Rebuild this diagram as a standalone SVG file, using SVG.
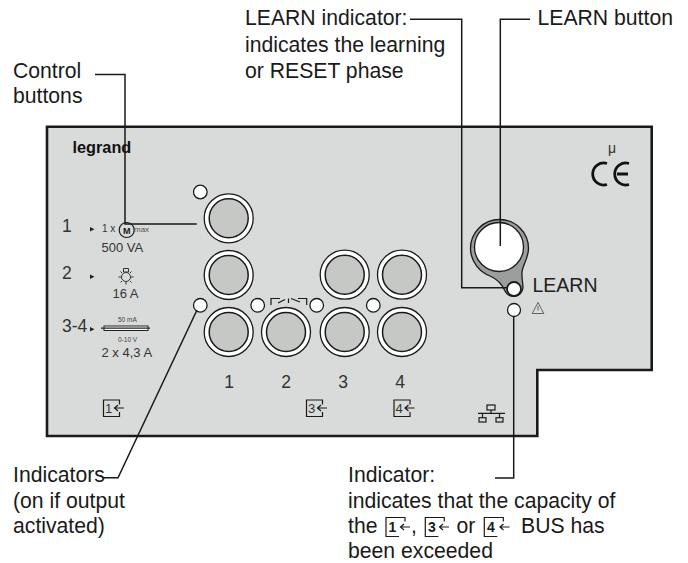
<svg xmlns="http://www.w3.org/2000/svg" width="688" height="563" viewBox="0 0 688 563">
<style>
text{font-family:"Liberation Sans",Arial,sans-serif;fill:#1a1a1a}
.l{font-size:21.200px}
.p{font-size:13px;fill:#333}
.s{font-size:8px;fill:#555}
.n{font-size:17.500px;fill:#333}
.i{font-size:13px;fill:#333}
.ib{font-size:14px;font-weight:bold}
.o{fill:#fff;stroke:#1a1a1a;stroke-width:1.300}
.b{fill:#c6c8c6;stroke:#1a1a1a;stroke-width:1.500}
.w{fill:none;stroke:#1a1a1a;stroke-width:1.200}
.c{fill:none;stroke:#1a1a1a;stroke-width:1.500}
.t{fill:none;stroke:#333;stroke-width:1}
</style>
<defs>
<g id="btn"><circle r="24.500" class="o"/><circle r="19.500" class="b"/></g>
<g id="led"><circle r="6.800" class="o"/></g>
<path id="bk" d="M16 4.500V0H0V16.500H16V12" class="w"/>
<path id="bk2" d="M19 4V0H0V19H13" class="w"/>
<path id="ar" d="M20.500 8H11M14.500 5L11 8L14.500 11" class="w"/>
</defs>
<g id="panel">
<path d="M47 126.700H651.700V370H537.300V436H47Z" fill="#d9dbda" stroke="#1a1a1a" stroke-width="2.600"/>
<text x="72.500" y="153" style="font-size:16.300px;font-weight:bold;fill:#111">legrand</text>
<text x="608" y="153" style="font-size:14px;fill:#333">μ</text>
<path d="M607 163.500A11 11 0 1 0 607 184.500M629 163.500A11 11 0 1 0 629 184.500M617 174H628" fill="none" stroke="#111" stroke-width="2.800"/>
</g>
<g id="ratings">
<text x="62" y="232" class="n">1</text><path d="M90 227l4.500 2.200-4.500 2.200z" fill="#222"/>
<text x="102" y="232" class="p" style="font-size:10px">1 x</text>
<circle cx="126.700" cy="230" r="7.500" class="w"/><text x="126.700" y="233.500" text-anchor="middle" style="font-size:9px;font-weight:bold">M</text>
<text x="134" y="232" class="s">max</text>
<text x="101.500" y="252" class="p">500 VA</text>
<text x="62" y="279" class="n">2</text><path d="M90 274.500l4.500 2.200-4.500 2.200z" fill="#222"/>
<g class="t"><circle cx="126" cy="277" r="4.500"/><path d="M123.500 268.500h5v3.500h-5zM118.500 277h2.500M131 277h2.500M120.500 271.500l1.500 1.500M131.500 271.500l-1.500 1.500M120.500 282.500l1.500-1.500M131.500 282.500l-1.500-1.500M126 282v2.500"/></g>
<text x="112.500" y="298" class="p">16 A</text>
<text x="62" y="332" class="n">3-4</text><path d="M90 327l4.500 2.200-4.500 2.200z" fill="#222"/>
<text x="118" y="322" style="font-size:6.500px;fill:#444">50 mA</text>
<rect x="104" y="326" width="44" height="4.500" fill="#fff" stroke="#222" stroke-width="1"/><path d="M101 328.200h49" stroke="#222" stroke-width="1.200"/>
<text x="118" y="342" style="font-size:6.500px;fill:#444">0-10 V</text>
<text x="101.500" y="357" class="p">2 x 4,3 A</text>
</g>
<g id="btn-1a"><use href="#btn" x="228.700" y="218.300"/></g>
<g id="btn-1b"><use href="#btn" x="228.700" y="275"/></g>
<g id="btn-1c"><use href="#btn" x="228.700" y="332"/></g>
<g id="btn-2"><use href="#btn" x="286" y="332"/></g>
<g id="btn-3a"><use href="#btn" x="344.700" y="274.700"/></g>
<g id="btn-3b"><use href="#btn" x="344.700" y="332"/></g>
<g id="btn-4a"><use href="#btn" x="402" y="274.700"/></g>
<g id="btn-4b"><use href="#btn" x="402" y="332"/></g>
<g id="leds">
<use href="#led" x="200.300" y="192"/><use href="#led" x="200.300" y="305.300"/><use href="#led" x="257.700" y="305.300"/><use href="#led" x="316.700" y="305.300"/><use href="#led" x="373.300" y="305.300"/>
<path d="M271 305V298.500H280M278 303L285 299.500M288.500 298.500V303M291 298.500L300 302M298 298.500H306.700V305" class="w"/>
</g>
<g id="numbers">
<text x="229" y="388" class="n" text-anchor="middle">1</text>
<text x="286" y="388" class="n" text-anchor="middle">2</text>
<text x="343" y="388" class="n" text-anchor="middle">3</text>
<text x="400" y="388" class="n" text-anchor="middle">4</text>
</g>
<g id="bus-icons">
<use href="#bk" x="103.500" y="400"/><text x="105" y="413" class="i">1</text><use href="#ar" x="103.500" y="400"/>
<use href="#bk" x="306.500" y="400"/><text x="308" y="413" class="i">3</text><use href="#ar" x="306.500" y="400"/>
<use href="#bk" x="394" y="400"/><text x="395.500" y="413" class="i">4</text><use href="#ar" x="394" y="400"/>
<path d="M478 413.300H505M491 410V413.300M482.500 413.300V417.700M499.500 413.300V417.700" class="w"/><rect x="487" y="405" width="8" height="5" class="w"/><rect x="479" y="417.700" width="7" height="4.300" class="w"/><rect x="496" y="417.700" width="7" height="4.300" class="w"/>
</g>
<g id="learn">
<path d="M499.500 219.500A29 29 0 0 1 528.500 248.500C528.500 258 523 264 522 272C521.500 278 523 283 523 288A9.500 9.500 0 0 1 505 291C502 284 497 279 490 276C480 272 470.500 262 470.500 248.500A29 29 0 0 1 499.500 219.500Z" fill="#9c9e9d" stroke="#1a1a1a" stroke-width="1.300"/>
<circle cx="499" cy="247" r="24.500" fill="#fff" stroke="#1a1a1a" stroke-width="1.300"/>
<circle cx="514" cy="289" r="7" fill="#fff" stroke="#1a1a1a" stroke-width="1.800"/>
<text x="532.500" y="292" style="font-size:19.500px;fill:#222">LEARN</text>
</g>
<g id="warning">
<circle cx="514" cy="310" r="6.500" class="o"/>
<path d="M538 302.500l-5.800 11h11.600zM538 306v4.500" fill="none" stroke="#444" stroke-width="0.800"/>
</g>
<g id="connectors">
<path d="M95 74.500H125V224H196.700" class="c"/>
<path d="M410 19.300H461.700V287.700H507" class="c"/>
<path d="M530 19.300H500.300V246" class="c"/>
<path d="M513.700 316V478H495" class="c"/>
<path d="M197 310L118 477.700H103" class="c"/>
</g>
<g id="labels">
<text x="13" y="78" class="l">Control</text><text x="13" y="103" class="l">buttons</text>
<text x="245" y="25" class="l">LEARN indicator:</text><text x="245" y="51.500" class="l">indicates the learning</text><text x="245" y="78" class="l">or RESET phase</text>
<text x="537.500" y="25" class="l">LEARN button</text>
<text x="13" y="482" class="l">Indicators</text><text x="13" y="507.500" class="l">(on if output</text><text x="13" y="533" class="l">activated)</text>
<text x="348" y="482" class="l">Indicator:</text><text x="348" y="507.500" class="l">indicates that the capacity of</text>
<text x="348" y="533" class="l">the</text>
<use href="#bk2" x="386" y="517.500"/><text x="388.500" y="532" class="ib">1</text><use href="#ar" x="389.500" y="519"/><text x="411" y="533" class="l">,</text>
<use href="#bk2" x="425.300" y="517.500"/><text x="428" y="532" class="ib">3</text><use href="#ar" x="428.500" y="519"/><text x="456.500" y="533" class="l">or</text>
<use href="#bk2" x="484.300" y="517.500"/><text x="487" y="532" class="ib">4</text><use href="#ar" x="489" y="519"/><text x="521" y="533" class="l">BUS has</text>
<text x="348" y="558" class="l">been exceeded</text>
</g>
</svg>
